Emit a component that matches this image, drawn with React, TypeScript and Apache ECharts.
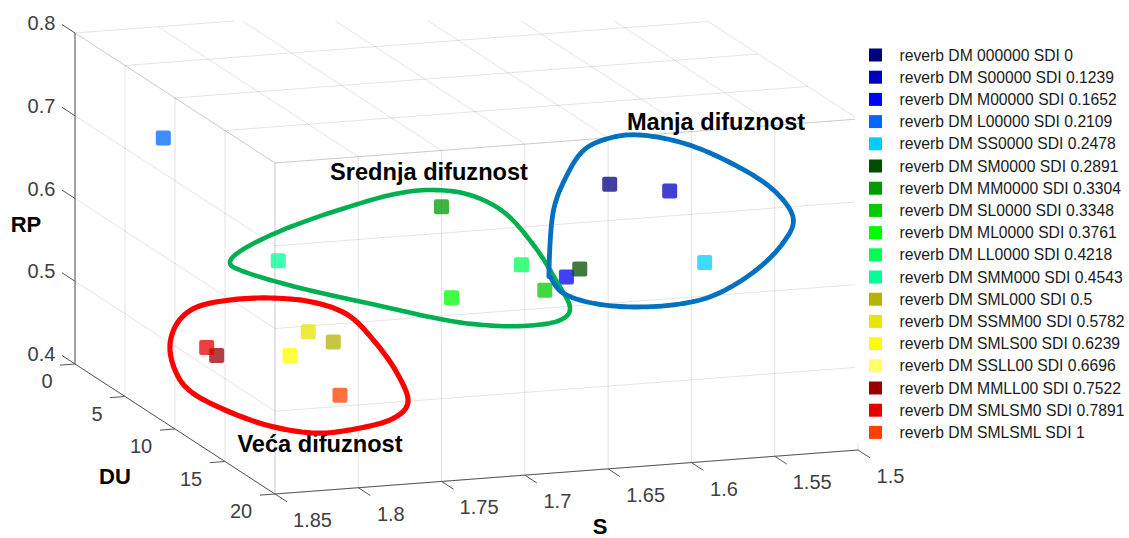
import React, { useEffect, useRef } from "react";
import * as echarts from "echarts";

const FONT = '"Liberation Sans", Arial, sans-serif';

const names = [
  "reverb DM 000000 SDI 0", "reverb DM S00000 SDI 0.1239", "reverb DM M00000 SDI 0.1652",
  "reverb DM L00000 SDI 0.2109", "reverb DM SS0000 SDI 0.2478", "reverb DM SM0000 SDI 0.2891",
  "reverb DM MM0000 SDI 0.3304", "reverb DM SL0000 SDI 0.3348", "reverb DM ML0000 SDI 0.3761",
  "reverb DM LL0000 SDI 0.4218", "reverb DM SMM000 SDI 0.4543", "reverb DM SML000 SDI 0.5",
  "reverb DM SSMM00 SDI 0.5782", "reverb DM SMLS00 SDI 0.6239", "reverb DM SSLL00 SDI 0.6696",
  "reverb DM MMLL00 SDI 0.7522", "reverb DM SMLSM0 SDI 0.7891", "reverb DM SMLSML SDI 1",
];
const colors = [
  "#000080", "#0000c0", "#0000ff", "#0066ff", "#00ccff", "#004d00", "#009900", "#00cc00", "#00ff00",
  "#00ff55", "#00ff99", "#b3b300", "#e6e600", "#ffff00", "#ffff66", "#990000", "#e60000", "#ff4000",
];
// SSLL00 has a legend entry but no visible marker.
const sValues = [1.541, 1.517, 1.591, 1.821, 1.502, 1.595, 1.672, 1.628, 1.696, 1.666, 1.782, 1.773, 1.776, 1.793, null, 1.849, 1.849, 1.799];
const duValues = [2, 4, 6, 4, 5, 8, 7, 10, 12, 14, 9, 13, 11, 12, null, 14, 13, 18];
const rpValues = [0.586, 0.59, 0.513, 0.7, 0.509, 0.539, 0.618, 0.534, 0.551, 0.602, 0.585, 0.517, 0.514, 0.496, null, 0.52, 0.522, 0.496];

const sTicks = [1.85, 1.8, 1.75, 1.7, 1.65, 1.6, 1.55, 1.5];
const duTicks = [0, 5, 10, 15, 20];
const rpTicks = [0.4, 0.5, 0.6, 0.7, 0.8];

const project = (s: number, du: number, rp: number) => [
  75 + du * 10 + ((1.85 - s) / 0.35) * 583,
  364 + du * 6.5 - ((1.85 - s) / 0.35) * 44 - ((rp - 0.4) / 0.4) * 331,
];

const TOP = 21;
const clipTop = (a: number[], b: number[]) => {
  const c = (p: number[], q: number[]) => {
    if (p[1] >= TOP) return p;
    const t = (TOP - p[1]) / (q[1] - p[1]);
    return [p[0] + (q[0] - p[0]) * t, TOP];
  };
  return [c(a, b), c(b, a)];
};

const segs: number[][] = [];
const addSeg = (a: number[], b: number[], kind: number) => {
  const [p, q] = clipTop(a, b);
  segs.push([p[0], p[1], q[0], q[1], kind]);
};
// grid: ceiling and the two walls
sTicks.forEach((s) => {
  addSeg(project(s, 0, 0.8), project(s, 20, 0.8), 0);
  addSeg(project(s, 20, 0.4), project(s, 20, 0.8), 0);
});
duTicks.forEach((d) => {
  addSeg(project(1.85, d, 0.8), project(1.5, d, 0.8), 0);
  addSeg(project(1.85, d, 0.4), project(1.85, d, 0.8), 0);
});
rpTicks.forEach((r) => {
  addSeg(project(1.85, 0, r), project(1.85, 20, r), 0);
  addSeg(project(1.85, 20, r), project(1.5, 20, r), 0);
});
// axes
addSeg(project(1.85, 0, 0.4), project(1.85, 0, 0.8), 1);
addSeg(project(1.85, 0, 0.4), project(1.85, 20, 0.4), 1);
addSeg(project(1.85, 20, 0.4), project(1.5, 20, 0.4), 1);
// ticks
rpTicks.forEach((r) => addSeg(project(1.85, -1.3, r), project(1.85, 0, r), 1));
duTicks.forEach((d) => addSeg(project(1.859, d, 0.4), project(1.85, d, 0.4), 1));
sTicks.forEach((s) => addSeg(project(s, 20, 0.4), project(s, 21.2, 0.4), 1));

const labelTexts: string[] = [];
const labelItems: number[][] = [];
const addLabel = (p: number[], dx: number, dy: number, t: string) => {
  labelItems.push([p[0] + dx, p[1] + dy, labelTexts.length]);
  labelTexts.push(t);
};
rpTicks.forEach((r) => addLabel(project(1.85, 0, r), -33.5, -10, r.toFixed(1)));
duTicks.forEach((d) => addLabel(project(1.85, d, 0.4), d < 10 ? -28 : -34, 17, String(d)));
sTicks.forEach((s) => {
  const t = String(s);
  addLabel(project(s, 20, 0.4), t.length > 3 ? 37.5 : 32.5, 26, t);
});

const redBlob = [[170,345],[178,322],[197,307],[230,300],[270,298],[312,302],[348,315],[375,342],[397,373],[408,402],[392,419],[355,429],[315,433],[270,426],[225,410],[190,391],[175,370]];
const greenBlob = [[230,262],[247,247],[290,227],[345,208],[395,194],[433,190],[470,195],[505,213],[535,247],[557,282],[570,308],[558,321],[523,326],[483,325],[440,319],[367,303],[300,288],[245,272]];
const blueBlob = [[549,270],[553,213],[566,177],[584,150],[610,138],[640,135],[683,143],[727,161],[770,187],[793,217],[783,243],[755,271],[717,294],[680,304],[633,307],[592,303],[563,293],[551,278]];

// closed Catmull-Rom outline through the hand-read key points
const outline = (pts: number[][]) => {
  const out: number[][] = [];
  const n = pts.length;
  for (let i = 0; i < n; i++) {
    const p0 = pts[(i - 1 + n) % n], p1 = pts[i], p2 = pts[(i + 1) % n], p3 = pts[(i + 2) % n];
    for (let k = 0; k < 10; k++) {
      const t = k / 10, t2 = t * t, t3 = t2 * t;
      out.push([0, 1].map((j) =>
        0.5 * (2 * p1[j] + (p2[j] - p0[j]) * t + (2 * p0[j] - 5 * p1[j] + 4 * p2[j] - p3[j]) * t2 + (3 * p1[j] - p0[j] - 3 * p2[j] + p3[j]) * t3)
      ));
    }
  }
  return out;
};

const annotations = [
  { text: "Manja difuznost", x: 716, y: 122 },
  { text: "Srednja difuznost", x: 429, y: 172 },
  { text: "Veća difuznost", x: 320, y: 444 },
];
const axisTitles = [
  { text: "RP", x: 26, y: 224 },
  { text: "DU", x: 115, y: 476 },
  { text: "S", x: 600, y: 526 },
];

const MARKER = "path://M2 0H13Q15 0 15 2V13Q15 15 13 15H2Q0 15 0 13V2Q0 0 2 0Z";

export default function App() {
  const ref = useRef<HTMLDivElement>(null);
  useEffect(() => {
    const chart = echarts.init(ref.current!, null, { renderer: "svg" });
    const blob = (points: number[][], stroke: string, lineWidth: number) => ({
      type: "polygon",
      z: 10,
      shape: { points: outline(points) },
      style: { fill: "none", stroke, lineWidth, lineJoin: "round" },
    });
    const titleText = (a: { text: string; x: number; y: number }, size: number) => ({
      type: "text",
      z: 9,
      x: a.x,
      y: a.y,
      style: { text: a.text, fill: "#000", font: `bold ${size}px ${FONT}`, lineHeight: 18, align: "center", verticalAlign: "middle" },
    });
    chart.setOption({
      animation: false,
      backgroundColor: "#fff",
      grid: { left: 0, right: 0, top: 0, bottom: 0 },
      xAxis: { type: "value", min: 0, max: 1129, show: false },
      yAxis: { type: "value", min: 0, max: 538, inverse: true, show: false },
      legend: {
        left: 869,
        top: 46,
        padding: 0,
        orient: "vertical",
        itemWidth: 38,
        itemHeight: 13,
        itemGap: 4.2,
        icon: "path://M0 0H10V10H0Z",
        data: names.map((name) => ({ name, itemStyle: { opacity: 1 } })),
        textStyle: { fontFamily: FONT, fontSize: 15.7, color: "#1a1a1a", lineHeight: 18 },
        selectedMode: false,
      },
      graphic: [
        { type: "rect", z: 1, shape: { x: 855, y: 0, width: 274, height: 443 }, style: { fill: "#fff" } },
        blob(redBlob, "#ff0000", 5.2),
        blob(greenBlob, "#00b050", 4.6),
        blob(blueBlob, "#0070c0", 4.8),
        ...annotations.map((a) => titleText(a, 23.6)),
        ...axisTitles.map((a) => titleText(a, 22)),
      ],
      series: [
        {
          type: "custom",
          name: "frame",
          z: 0,
          silent: true,
          clip: false,
          coordinateSystem: "cartesian2d",
          data: segs,
          renderItem: (_: any, api: any) => {
            const a = api.coord([api.value(0), api.value(1)]);
            const b = api.coord([api.value(2), api.value(3)]);
            const axis = api.value(4) === 1;
            return {
              type: "line",
              shape: { x1: a[0], y1: a[1], x2: b[0], y2: b[1] },
              style: { stroke: axis ? "#555" : "rgba(0,0,0,0.11)", lineWidth: 1 },
            };
          },
        },
        {
          type: "custom",
          name: "tickLabels",
          z: 3,
          silent: true,
          clip: false,
          coordinateSystem: "cartesian2d",
          data: labelItems,
          renderItem: (_: any, api: any) => {
            const a = api.coord([api.value(0), api.value(1)]);
            return {
              type: "text",
              x: a[0],
              y: a[1],
              style: {
                text: labelTexts[api.value(2)],
                fill: "#404040",
                font: `20px ${FONT}`,
                align: "center",
                verticalAlign: "middle",
              },
            };
          },
        },
        ...names.map((name, i) => ({
          type: "scatter",
          name,
          z: 5,
          symbol: MARKER,
          symbolSize: 15,
          itemStyle: { color: colors[i], opacity: 0.75 },
          data: sValues[i] === null ? [] : [project(sValues[i] as number, duValues[i] as number, rpValues[i] as number)],
        })),
      ],
    });
    return () => chart.dispose();
  }, []);
  return <div ref={ref} style={{ position: "fixed", left: 0, top: 0, width: 1129, height: 538 }} />;
}
